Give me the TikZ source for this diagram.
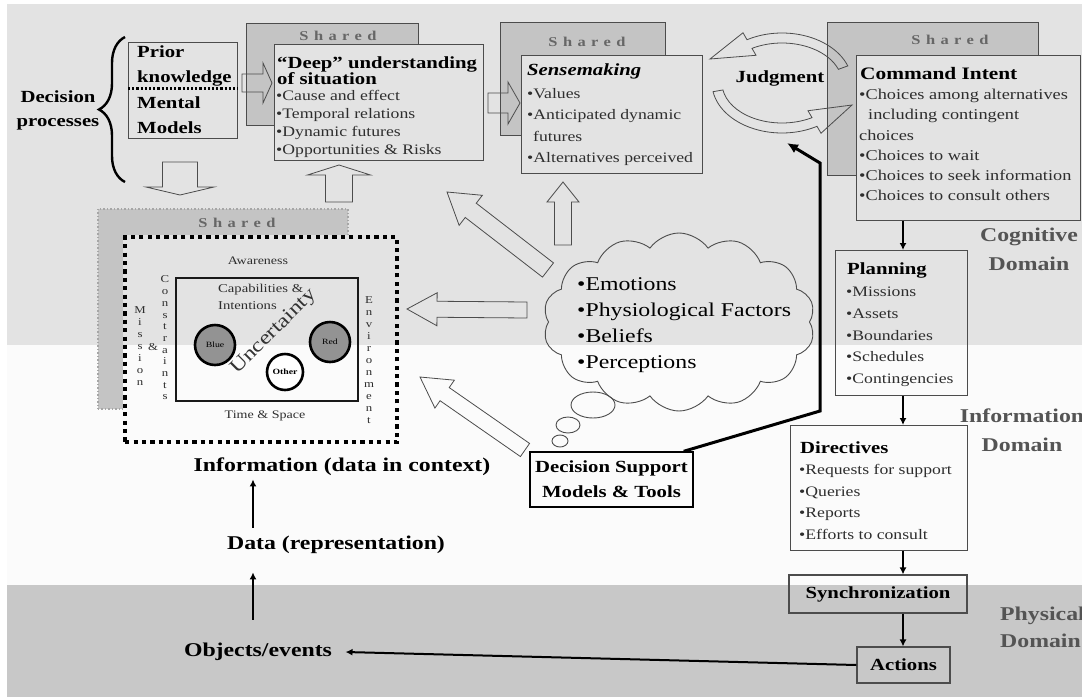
\documentclass[tikz,border=0pt]{standalone}
\usepackage{fontspec}
\setmainfont{Liberation Serif}[FakeStretch=1.22]
\newfontfamily\sharedfont{Liberation Serif}[FakeStretch=1.22,LetterSpace=40]
\usetikzlibrary{shapes.geometric,shapes.symbols,decorations.pathreplacing,arrows.meta,calc}

\definecolor{topband}{gray}{0.89}
\definecolor{midband}{gray}{0.985}
\definecolor{lowband}{gray}{0.785}
\definecolor{sharedfill}{gray}{0.77}
\definecolor{edge}{gray}{0.3}
\definecolor{bodytext}{gray}{0.18}
\definecolor{domaintext}{gray}{0.33}
\definecolor{sharedtext}{gray}{0.4}

\newcommand\fs[2]{\fontsize{#1}{#2}\selectfont}

% hollow block arrow from tail coordinate #1 to tip coordinate #2;
% #3 shaft half width, #4 head half width, #5 head length
\makeatletter
\newcommand\blockarr[5]{%
  \pgfpointdiff{\pgfpointanchor{#1}{center}}{\pgfpointanchor{#2}{center}}%
  \edef\ba@dx{\the\pgf@x}\edef\ba@dy{\the\pgf@y}%
  \pgfmathsetmacro\ba@len{veclen(\ba@dx,\ba@dy)}%
  \pgfmathsetmacro\ba@ang{atan2(\ba@dy,\ba@dx)}%
  \begin{scope}[shift={(#1)}, rotate=\ba@ang]
    \draw[blockarrow] (0,#3) -- ({\ba@len-#5},#3) -- ({\ba@len-#5},#4) -- (\ba@len,0)
      -- ({\ba@len-#5},-#4) -- ({\ba@len-#5},-#3) -- (0,-#3) -- cycle;
  \end{scope}}
\makeatother

\tikzset{
  box/.style={draw=edge, line width=1.1pt, inner sep=0, anchor=north west},
  sharedbox/.style={draw=edge, fill=sharedfill, line width=1pt, inner sep=0, anchor=north west},
  sharedlabel/.style={font=\sharedfont\bfseries\fs{13.5}{13.5}, text=sharedtext},
  title/.style={font=\bfseries\fs{17}{16}, anchor=north west, inner sep=0, align=left},
  bullets/.style={font=\fs{14.5}{18}, text=bodytext, anchor=north west, inner sep=0, align=left},
  domainlabel/.style={font=\bfseries\fs{19.5}{29}, text=domaintext, align=center, inner sep=0},
  flow/.style={font=\bfseries\fs{19.5}{22}},
  arr/.style={-{Latex[length=7pt,width=7pt]}, line width=2.2pt},
  blockarrow/.style={draw=edge, line width=0.8pt},
  stack/.style={font=\fs{10.5}{12}, text=bodytext, align=center, inner sep=0},
  small/.style={font=\fs{11.5}{17}, text=bodytext, inner sep=0},
  actor/.style={circle, draw=black, line width=2.6pt, inner sep=0, font=\fs{8}{8}},
}

\begin{document}
\begin{tikzpicture}[x=1pt, y=-1pt]
\useasboundingbox (0,0) rectangle (1082,697);
\clip (0,0) rectangle (1082,697);

% domain bands
\fill[white] (0,0) rectangle (1082,697);
\fill[topband] (7,4) rectangle (1082,345);
\fill[midband] (7,345) rectangle (1082,585);
\fill[lowband] (7,585) rectangle (1082,697);

% domain labels
\node[domainlabel] (cogD) at (1029,249) {Cognitive\\Domain};
\node[domainlabel] (infD) at (1022,430) {Information\\Domain};
\node[domainlabel, align=left, anchor=west, font=\bfseries\fs{19.5}{27}] (phyD) at (1000,627) {Physical\\Domain};

% decision processes
\node[font=\bfseries\fs{17}{24}, align=center] (dp) at (58,110) {Decision\\processes};
\draw[line width=2.4pt, decorate, decoration={brace, amplitude=26pt}] (125,182) -- (125,37);

\node[box, minimum width=109, minimum height=96] (prior) at (128,42) {};
\draw[dotted, line width=2.2pt] ([yshift=2pt]prior.west) -- ([yshift=2pt]prior.east);
\node[title, font=\bfseries\fs{17}{25}] (priorT) at (137,46) {Prior\\knowledge};
\node[title, font=\bfseries\fs{17}{25}] (mentT) at (137,96) {Mental\\Models};

% deep understanding
\node[sharedbox, minimum width=172, minimum height=102] (shA) at (246,23) {};
\node[sharedlabel] (shAt) at (338,36) {Shared};
\coordinate (a1t) at (242,83); \coordinate (a1h) at (272,83);
\blockarr{a1t}{a1h}{9}{20}{9}
\node[box, fill=topband, minimum width=209, minimum height=116] (deep) at (274,44) {};
\node[title] (deepT) at (277,56) {“Deep” understanding\\of situation};
\node[bullets] (deepB) at (276,90) {•Cause and effect\\•Temporal relations\\•Dynamic futures\\•Opportunities \& Risks};

% sensemaking
\node[sharedbox, minimum width=165, minimum height=113] (shB) at (500,22) {};
\node[sharedlabel] (shBt) at (587,42) {Shared};
\coordinate (a2t) at (488,103); \coordinate (a2h) at (520,103);
\blockarr{a2t}{a2h}{10}{21}{12}
\node[box, fill=topband, minimum width=181, minimum height=118] (sense) at (521,55) {};
\node[title, font=\bfseries\itshape\fs{17}{16}] (senseT) at (527,64) {Sensemaking};
\node[bullets, font=\fs{14.5}{21.5}] (senseB) at (527,88) {•Values\\•Anticipated dynamic\\\hspace*{6pt}futures\\•Alternatives perceived};

% command intent
\node[sharedbox, minimum width=211, minimum height=153] (shC) at (827,22) {};
\node[sharedlabel] (shCt) at (950,40) {Shared};

% judgment cycle
\node[font=\bfseries\fs{17}{17}] (judg) at (780,78) {Judgment};
\begin{scope}[shift={(782,83)}]
\draw[blockarrow] (340:70 and 50) arc[start angle=340, end angle=240, x radius=70, y radius=50]
  -- (240:78 and 58) -- (-72,-24) -- (240:52 and 32) -- (240:60 and 40)
  arc[start angle=240, end angle=340, x radius=60, y radius=40] -- cycle;
\draw[blockarrow] (170:70 and 50) arc[start angle=170, end angle=60, x radius=70, y radius=50]
  -- (60:78 and 58) -- (70,22) -- (60:52 and 32) -- (60:60 and 40)
  arc[start angle=60, end angle=170, x radius=60, y radius=40] -- cycle;
\end{scope}

\node[box, fill=topband, minimum width=224, minimum height=165] (ci) at (856,55) {};
\node[title, font=\bfseries\fs{17.5}{16}] (ciT) at (860,67) {Command Intent};
\node[bullets, font=\fs{15}{20.2}] (ciB) at (859,89) {•Choices among alternatives\\\hspace*{9pt}including contingent\\choices\\•Choices to wait\\•Choices to seek information\\•Choices to consult others};

% planning chain
\coordinate (spine) at (903,0);
\node[box, minimum width=132, minimum height=145] (plan) at (835,250) {};
\node[title] (planT) at (847,262) {Planning};
\node[bullets, font=\fs{14.5}{21.7}] (planB) at (846,287) {•Missions\\•Assets\\•Boundaries\\•Schedules\\•Contingencies};

\node[box, minimum width=177, minimum height=125] (dir) at (790,425) {};
\node[title] (dirT) at (800,441) {Directives};
\node[bullets, font=\fs{14.5}{21.7}] (dirB) at (799,464) {•Requests for support\\•Queries\\•Reports\\•Efforts to consult};

\node[draw=edge, line width=1.1pt, minimum width=178, minimum height=38, inner sep=0, font=\bfseries\fs{17}{17}] (sync) at (878,594) {Synchronization};
\node[draw=edge, line width=1.1pt, minimum width=93, minimum height=36, inner sep=0, font=\bfseries\fs{17}{17}] (act) at (903.5,665) {Actions};

\draw[arr] (ci.south -| spine) -- (plan.north -| spine);
\draw[arr] (plan.south -| spine) -- (dir.north -| spine);
\draw[arr] (dir.south -| spine) -- (sync.north -| spine);
\draw[arr] (sync.south -| spine) -- (act.north -| spine);

% data / information flow
\node[flow] (info) at (342,467) {Information (data in context)};
\node[flow] (data) at (336,545) {Data (representation)};
\node[flow] (obj) at (258,652) {Objects/events};
\coordinate (ax) at (253,0);
\draw[arr, shorten <=5pt] (data.north -| ax) -- (info.south -| ax);
\draw[arr, shorten <=20pt, shorten >=15pt] (obj.north -| ax) -- (data.south -| ax);
\draw[arr, line width=2pt] (act.west) -- ([xshift=10pt]obj.east);

% shared awareness
\node[anchor=north west, inner sep=0, minimum width=250, minimum height=200, fill=sharedfill, draw=gray!70, dotted, line width=1.5pt] (shD) at (97,208) {};
\node[sharedlabel] (shDt) at (237,223) {Shared};
\fill[topband] (123,235) rectangle (395,345);
\fill[midband] (123,345) rectangle (395,440);
\node[anchor=north west, inner sep=0, minimum width=272, minimum height=205, draw=black, line width=4.2pt, dash pattern=on 4.2pt off 4.2pt] (aware) at (123,235) {};
\node[small] (awT) at (258,261) {Awareness};
\node[small] (tsT) at (265,416) {Time \& Space};
\node[draw={gray!20!black}, line width=1.6pt, anchor=north west, minimum width=182, minimum height=123, inner sep=0] (cap) at (175,277) {};
\node[small, font=\fs{12}{17}, align=left, anchor=north west] (capT) at (218,284) {Capabilities \&\\Intentions};
\node[actor, fill=gray!85, minimum size=40] (blue) at (215,345) {Blue};
\node[actor, fill=gray!85, minimum size=40] (red) at (330,342) {Red};
\node[actor, fill=white, minimum size=36, font=\bfseries\fs{8}{8}] (other) at (285,372) {Other};
\node[font=\fs{19.5}{19.5}, text=gray!40!black, rotate=45, inner sep=0] (unc) at (274,332) {Uncertainty};
\node[stack] (mis) at (140,346) {M\\i\\s\\s\\i\\o\\n};
\node[stack] (amp) at (153,347) {\&};
\node[stack, font=\fs{10.5}{11.7}] (con) at (165,338) {C\\o\\n\\s\\t\\r\\a\\i\\n\\t\\s};
\node[stack] (env) at (369,360) {E\\n\\v\\i\\r\\o\\n\\m\\e\\n\\t};

% cloud of human factors
\node[cloud, draw=edge, line width=0.9pt, cloud puffs=14, cloud puff arc=110, aspect=1.5, minimum width=272pt, minimum height=178pt, inner sep=0] (cloud) at (679,322) {};
\node[anchor=north west, inner sep=0, font=\fs{19.5}{26}, align=left] (cloudT) at (577,277) {•Emotions\\•Physiological Factors\\•Beliefs\\•Perceptions};
\node[ellipse, draw=edge, line width=0.9pt, minimum width=44, minimum height=26, inner sep=0] (bub1) at (593,405) {};
\node[ellipse, draw=edge, line width=0.9pt, minimum width=24, minimum height=16, inner sep=0] (bub2) at (568,425) {};
\node[ellipse, draw=edge, line width=0.9pt, minimum width=16, minimum height=12, inner sep=0] (bub3) at (560,441) {};

% decision support
\node[draw=black, line width=1.4pt, minimum width=163, minimum height=55, inner sep=0, font=\bfseries\fs{17}{25}, align=center] (ds) at (611.5,479.5) {Decision Support\\Models \& Tools};
\coordinate (bend1) at (820,411);
\coordinate (bend2) at (820,163);
\coordinate (jtip) at (787,143);
\draw[line width=3pt, -{Latex[length=11pt,width=10pt]}] ([xshift=-10pt]ds.north east) -- (bend1) -- (bend2) -- (jtip);

% hollow influence arrows
\coordinate (a3t) at (180,162); \coordinate (a3h) at (180,195);
\blockarr{a3t}{a3h}{17.5}{34}{8}
\coordinate (a4t) at (339,202); \coordinate (a4h) at (339,165);
\blockarr{a4t}{a4h}{13.5}{31.5}{10}
\coordinate (a5t) at (563,245); \coordinate (a5h) at (563,182);
\blockarr{a5t}{a5h}{8.5}{16}{20}
\coordinate (a6t) at (548,270); \coordinate (a6h) at (447,192);
\blockarr{a6t}{a6h}{9}{19}{30}
\coordinate (a7t) at (527,310); \coordinate (a7h) at (407,309);
\blockarr{a7t}{a7h}{8}{16.5}{30}
\coordinate (a8t) at (525,450); \coordinate (a8h) at (420,377);
\blockarr{a8t}{a8h}{8}{17}{30}
\end{tikzpicture}
\end{document}
